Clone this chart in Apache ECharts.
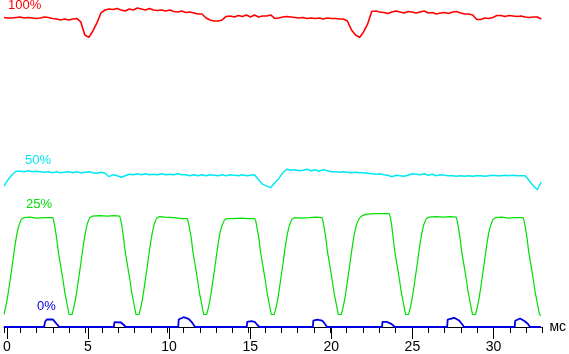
<!DOCTYPE html>
<html><head><meta charset="utf-8">
<script src="https://cdn.jsdelivr.net/npm/echarts@6/dist/echarts.min.js"></script>
<style>html,body{margin:0;padding:0;background:#fff}#c{width:569px;height:354px}</style>
</head><body><div id="c"></div>
<script>
// time samples (ms) for the red (100%) and cyan (50%) traces
const sampleTimes = [0,0.25,0.5,0.75,1,1.25,1.5,1.75,2,2.25,2.5,2.75,3,3.25,3.5,3.75,4,4.25,4.5,4.75,5,5.25,5.5,5.75,6,6.25,6.5,6.75,7,7.25,7.5,7.75,8,8.25,8.5,8.75,9,9.25,9.5,9.75,10,10.25,10.5,10.75,11,11.25,11.5,11.75,12,12.25,12.5,12.75,13,13.25,13.5,13.75,14,14.25,14.5,14.75,15,15.25,15.5,15.75,16,16.25,16.5,16.75,17,17.25,17.5,17.75,18,18.25,18.5,18.75,19,19.25,19.5,19.75,20,20.25,20.5,20.75,21,21.25,21.5,21.75,22,22.25,22.5,22.75,23,23.25,23.5,23.75,24,24.25,24.5,24.75,25,25.25,25.5,25.75,26,26.25,26.5,26.75,27,27.25,27.5,27.75,28,28.25,28.5,28.75,29,29.25,29.5,29.75,30,30.25,30.5,30.75,31,31.25,31.5,31.75,32,32.25,32.5,32.75,33,33.25];

// 100% level (red)
const red100 = [
310,309.5,309.5,310, 310.5,309.5,310,309.5, 309,309.5,310.5,310, 309,308.5,307.5,308.5,
307.5,308.5,309,305.5, 292.5,290,296.5,304.5, 314.5,317.5,318.5,318, 319,317.5,316.5,318.5,
317.5,319.5,318.5,317.5, 319,317.5,317,317.5, 316.5,317.5,316,315.5, 316.5,315,315.5,314.5,
313.5,313.5,309.5,307.5, 306.5,306.5,307.5,311, 311.5,310.5,312,311, 312.5,310.5,312.5,310.5,
311.5,311.5,312.5,309, 309.5,310.5,311,310.5, 310,309.5,310,309, 309.5,309,309.5,308.5,
309.5,309,309,308.5, 308.5,306.5,297.5,292.5, 290,295.5,303.5,316, 316.5,315.5,315,314,
315.5,316.5,315.5,314.5, 316,315.5,314.5,315.5, 316.5,314.5,315,313.5, 314.5,315,314,315.5,
316,314.5,313.5,313.5, 312.5,308,308,309.5, 309,310,312,312, 311,312,311.5,311,
311.5,310.5,310,310.5, 310.5,308.5];

// 50% level (cyan)
const cyan50 = [
141,147.5,152.5,156, 156,155.5,156.5,155.5, 156,155.5,155,155.5, 154.5,155.5,154.5,155,
155.5,154.5,155.5,154.5, 155,155.5,154.5,154, 155,154,150.5,152.5, 151.5,150,151.5,153,
152.5,153.5,152.5,153.5, 152.5,153,152.5,153.5, 152.5,153,152.5,153.5, 152.5,152.5,151.5,152.5,
151.5,152.5,151.5,152.5, 152,151.5,152.5,151.5, 152.5,152,151.5,152.5, 151.5,152,152.5,147.5,
143,141,139.5,144.5, 148.5,154.5,158,157, 157.5,156.5,157,158, 156.5,157.5,156,157.5,
156.5,155.5,155.5,155, 155.5,155,154.5,155, 154.5,154.5,154,153.5, 153,153.5,152.5,152,
150.5,152,151.5,151, 152,153.5,153,152.5, 153.5,152,153,151.5, 152.5,152,151.5,151.5,
151,151.5,151,151.5, 151,151.5,151.5,151, 151.5,152,151.5,151.5, 152,151.5,152,151.5,
151.5,151.5,146.5,141.5, 137.5,145.5];

// 25% level (green): [time ms, value]
const green25 = [
[0,12.7],[0.092,19.2],[0.196,27.5],[0.294,37.5],[0.398,49.2],[0.502,60.8],[0.6,72.5],[0.704,84.2],[0.809,94.2],[0.931,102.2],[1.072,107.8],[1.237,109.5],
[1.6,110],[2.0,109],[2.5,109.5],
[3.013,109.5],[3.074,106.5],[3.154,99.5],[3.258,89.2],[3.356,75.8],[3.46,65.8],[3.564,55.8],[3.662,45.8],[3.766,34.2],[3.87,25.8],[3.968,17.5],[4.029,12.5],[4.115,11.5],[4.213,12.5],[4.317,19.2],[4.421,27.5],[4.519,37.5],[4.623,49.2],[4.727,60.8],[4.825,72.5],[4.929,84.2],[5.034,94.2],[5.156,103.7],[5.297,109.3],[5.462,111],
[5.9,111.5],[6.4,111],[6.8,111.5],
[7.153,111],[7.214,108],[7.294,101],[7.398,89.2],[7.496,75.8],[7.6,65.8],[7.704,55.8],[7.802,45.8],[7.906,34.2],[8.01,25.8],[8.108,17.5],[8.169,12.5],[8.255,11.5],[8.353,12.5],[8.457,19.2],[8.561,27.5],[8.659,37.5],[8.763,49.2],[8.867,60.8],[8.965,72.5],[9.069,84.2],[9.174,94.2],[9.296,103.2],[9.437,108.8],[9.602,110.5],
[10.0,110],[10.5,109.5],[11.0,108.5],
[11.341,108.5],[11.402,105.5],[11.482,98.5],[11.586,89.2],[11.684,75.8],[11.788,65.8],[11.892,55.8],[11.99,45.8],[12.094,34.2],[12.198,25.8],[12.296,17.5],[12.357,12.5],[12.443,11.5],[12.541,12.5],[12.645,19.2],[12.749,27.5],[12.847,37.5],[12.951,49.2],[13.055,60.8],[13.153,72.5],[13.257,84.2],[13.362,94.2],[13.484,101.2],[13.625,106.8],[13.79,108.5],
[14.2,108.5],[14.7,109],[15.1,108.5],
[15.524,108.5],[15.585,105.5],[15.665,98.5],[15.769,89.2],[15.867,75.8],[15.971,65.8],[16.075,55.8],[16.173,45.8],[16.277,34.2],[16.381,25.8],[16.479,17.5],[16.54,12.5],[16.626,11.5],[16.724,12.5],[16.828,19.2],[16.932,27.5],[17.03,37.5],[17.134,49.2],[17.238,60.8],[17.336,72.5],[17.44,84.2],[17.545,94.2],[17.667,102.2],[17.808,107.8],[17.973,109.5],
[18.4,109],[18.9,109.5],[19.3,110],
[19.669,109.5],[19.73,106.5],[19.81,99.5],[19.914,89.2],[20.012,75.8],[20.116,65.8],[20.22,55.8],[20.318,45.8],[20.422,34.2],[20.526,25.8],[20.624,17.5],[20.685,12.5],[20.771,11.5],[20.869,12.5],[20.973,19.2],[21.077,27.5],[21.175,37.5],[21.279,49.2],[21.383,60.8],[21.481,72.5],[21.585,84.2],[21.69,94.2],[21.812,102.5],[21.953,108],[22.118,111],[22.4,113],
[23.0,113.5],[23.5,113.5],
[23.834,113.5],[23.895,110.5],[23.975,103.5],[24.079,89.2],[24.177,75.8],[24.281,65.8],[24.385,55.8],[24.483,45.8],[24.587,34.2],[24.691,25.8],[24.789,17.5],[24.85,12.5],[24.936,11.5],[25.034,12.5],[25.138,19.2],[25.242,27.5],[25.34,37.5],[25.444,49.2],[25.548,60.8],[25.646,72.5],[25.75,84.2],[25.855,94.2],[25.977,102.7],[26.118,108.3],[26.283,110],
[26.7,110.5],[27.2,110],[27.6,110.5],
[27.973,110],[28.034,107],[28.114,100],[28.218,89.2],[28.316,75.8],[28.42,65.8],[28.524,55.8],[28.622,45.8],[28.726,34.2],[28.83,25.8],[28.928,17.5],[28.989,12.5],[29.075,11.5],[29.173,12.5],[29.277,19.2],[29.381,27.5],[29.479,37.5],[29.583,49.2],[29.687,60.8],[29.785,72.5],[29.889,84.2],[29.994,94.2],[30.116,102.2],[30.257,107.8],[30.422,109.5],
[30.8,110],[31.2,109],[31.6,109.5],
[32.119,109.5],[32.18,106.5],[32.26,99.5],[32.364,89.2],[32.462,75.8],[32.566,65.8],[32.67,55.8],[32.768,45.8],[32.872,34.2],[32.976,25.8],[33.074,17.5],[33.135,12.5],[33.221,11.5]];

// 0% level (blue): [time ms, value]
const blue0 = [
[0,0],[2.48,0],[2.54,5.2],[2.65,7.5],[3.03,7.5],[3.15,5.2],[3.29,2.5],[3.42,0],
[6.80,0],[6.83,4.8],[6.95,5.2],[7.24,4.5],[7.38,2.5],[7.54,0],
[10.78,0],[10.81,7.5],[11.11,9.8],[11.42,8.2],[11.62,4.8],[11.83,0],
[15.02,0],[15.05,5.2],[15.30,5.8],[15.51,5.2],[15.66,2.5],[15.81,0],
[19.11,0],[19.14,6.5],[19.38,7.5],[19.69,6.5],[19.85,3.2],[19.99,0],
[23.39,0],[23.42,5.2],[23.67,5.2],[23.97,3.2],[24.18,0],
[27.42,0],[27.45,7.5],[27.85,9.2],[28.16,6.5],[28.36,2.5],[28.46,0],
[31.60,0],[31.63,6.2],[31.93,8.5],[32.20,6.0],[32.41,3.2],[32.55,0],[33.22,0]];

const levelLabels = ['100%','50%','25%','0%'];
const axisUnit = 'мс';
const xMax = 33.25, minorMax = 33, majorMax = 30;

const FONT = '"Liberation Sans", Arial, sans-serif';
const chart = echarts.init(document.getElementById('c'), null, {renderer:'canvas'});
const pxPerMs = (569 - 4 - 22.5) / xMax;
const hiddenY = i => ({type:'value', gridIndex:i, min:0, max:327.5, show:false});
chart.setOption({
  animation:false,
  backgroundColor:'#fff',
  grid:[
    {left:4, right:22.5, top:0, bottom:27},
    {left:4, width:minorMax*pxPerMs, top:0, bottom:27},
    {left:4, width:majorMax*pxPerMs, top:0, bottom:27}
  ],
  xAxis:[
    {type:'value', gridIndex:0, min:0, max:xMax, splitLine:{show:false},
     axisLine:{show:true, onZero:false, lineStyle:{color:'#000', width:1}},
     axisTick:{show:false}, axisLabel:{show:false},
     name:axisUnit, nameLocation:'end', nameGap:8,
     nameTextStyle:{color:'#000', fontSize:14, fontFamily:FONT, padding:[3,0,0,0]}},
    {type:'value', gridIndex:1, min:0, max:minorMax, interval:1, splitLine:{show:false},
     axisLine:{show:false}, axisLabel:{show:false},
     axisTick:{show:true, length:6, lineStyle:{color:'#000', width:1}}},
    {type:'value', gridIndex:2, min:0, max:majorMax, interval:5, splitLine:{show:false},
     axisLine:{show:false},
     axisTick:{show:true, length:12, lineStyle:{color:'#000', width:1}},
     axisLabel:{show:true, color:'#000', fontSize:14, fontFamily:FONT, margin:13}}
  ],
  yAxis:[hiddenY(0), hiddenY(1), hiddenY(2)],
  graphic:[
    {type:'text', left:8, top:-1.5, style:{text:levelLabels[0], fill:'#ff0000', font:'13px '+FONT}},
    {type:'text', left:25, top:154, style:{text:levelLabels[1], fill:'#00e8f0', font:'13px '+FONT}},
    {type:'text', left:26, top:197.5, style:{text:levelLabels[2], fill:'#00e000', font:'13px '+FONT}},
    {type:'text', left:37, top:300, style:{text:levelLabels[3], fill:'#0000e0', font:'13px '+FONT}}
  ],
  series:[
    {type:'line', xAxisIndex:0, yAxisIndex:0, symbol:'none', clip:false,
     data:sampleTimes.map((t,i)=>[t, red100[i]]), lineStyle:{color:'#ff0000', width:1.6}},
    {type:'line', xAxisIndex:0, yAxisIndex:0, symbol:'none', clip:false,
     data:sampleTimes.map((t,i)=>[t, cyan50[i]]), lineStyle:{color:'#00e8f0', width:1.4}},
    {type:'line', xAxisIndex:0, yAxisIndex:0, symbol:'none', clip:false,
     data:green25, lineStyle:{color:'#00e000', width:1.2}},
    {type:'line', xAxisIndex:0, yAxisIndex:0, symbol:'none', clip:false,
     data:blue0, lineStyle:{color:'#0000e0', width:1.8}}
  ]
});
</script></body></html>
